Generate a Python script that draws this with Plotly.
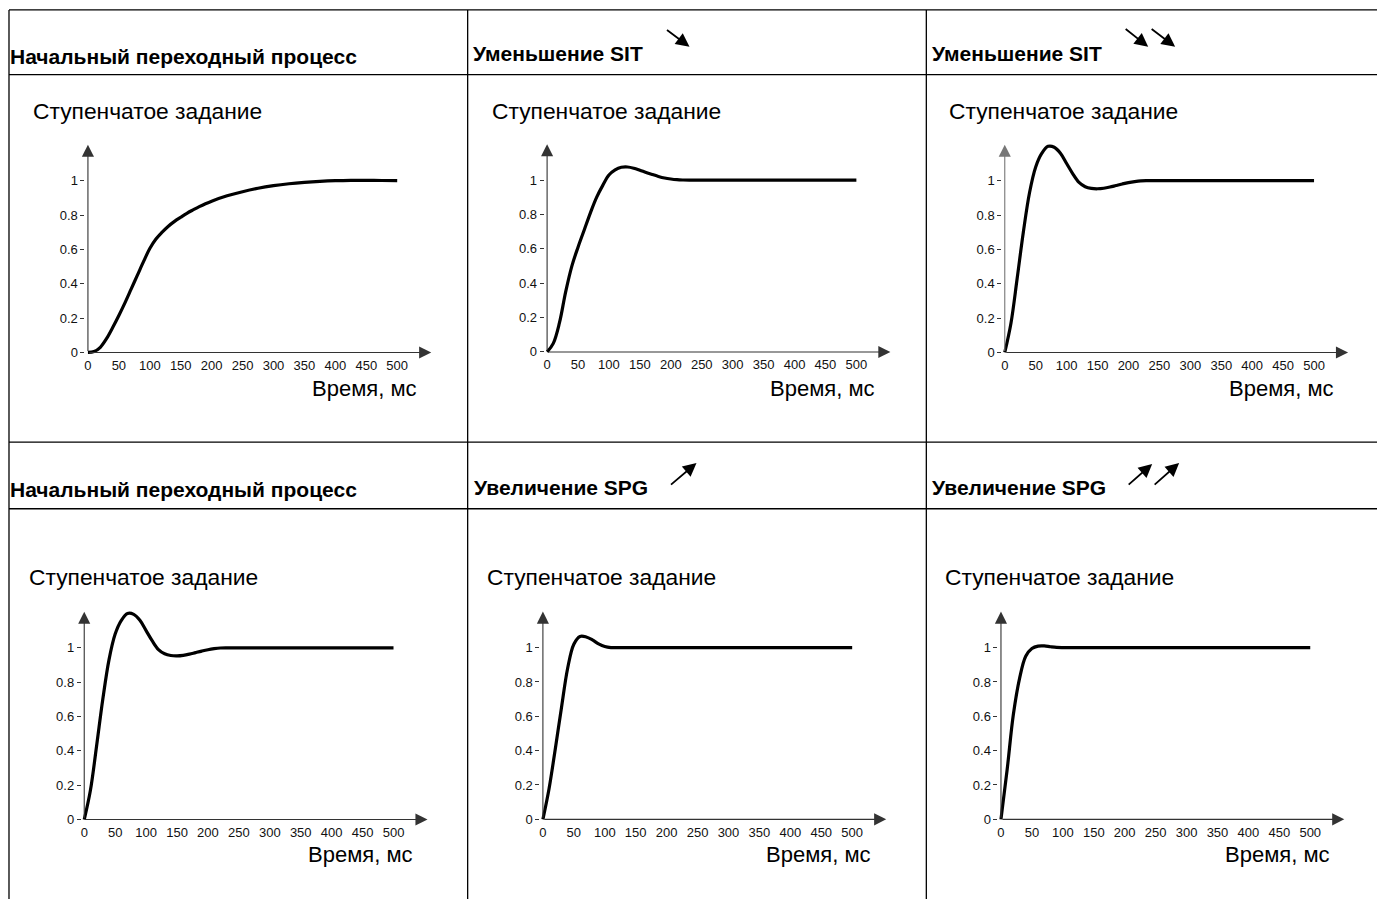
import plotly.graph_objects as go

W, H = 1377, 901

# ---------------- data ----------------
x_tick_vals = [0, 50, 100, 150, 200, 250, 300, 350, 400, 450, 500]
x_tick_text = ["0", "50", "100", "150", "200", "250", "300", "350", "400", "450", "500"]
y_tick_vals = [0, 0.2, 0.4, 0.6, 0.8, 1]
y_tick_text = ["0", "0.2", "0.4", "0.6", "0.8", "1"]

t_common = [0, 10, 20, 30, 40, 50, 60, 70, 80, 90, 100, 110, 120, 130, 140, 150, 160,
            170, 180, 190, 200, 210, 220, 230, 240, 250, 300, 350, 400, 450, 500]

# Panel 1: initial transient (slow, no overshoot)
t_initial = [0, 10, 20, 30, 40, 50, 60, 70, 80, 90, 100, 110, 120, 130, 140, 150, 160,
             170, 180, 190, 200, 225, 250, 275, 300, 325, 350, 375, 400, 425, 450, 475, 500]
y_initial = [0, 0.005, 0.03, 0.08, 0.145, 0.215, 0.29, 0.37, 0.45, 0.53, 0.605, 0.66, 0.70,
             0.735, 0.763, 0.787, 0.81, 0.83, 0.849, 0.866, 0.881, 0.912, 0.936, 0.956,
             0.971, 0.982, 0.99, 0.996, 1.0, 1.002, 1.002, 1.001, 1.0]

# Panel 2: SIT decreased
t_sit1 = t_common
y_sit1 = [0, 0.05, 0.17, 0.35, 0.50, 0.61, 0.71, 0.81, 0.90, 0.97, 1.03, 1.06, 1.075,
          1.077, 1.07, 1.058, 1.045, 1.033, 1.022, 1.013, 1.007, 1.003, 1.001, 1.0, 1.0,
          1.0, 1.0, 1.0, 1.0, 1.0, 1.0]

# Panel 3: SIT decreased further
t_sit2 = t_common
y_sit2 = [0, 0.17, 0.43, 0.70, 0.93, 1.08, 1.16, 1.20, 1.195, 1.16, 1.10, 1.04, 0.99,
          0.965, 0.955, 0.953, 0.956, 0.963, 0.972, 0.981, 0.989, 0.995, 0.999, 1.0, 1.0,
          1.0, 1.0, 1.0, 1.0, 1.0, 1.0]

# Panel 4: initial transient (second row)
t_initial2 = t_common
y_initial2 = [0, 0.17, 0.43, 0.70, 0.93, 1.08, 1.16, 1.20, 1.195, 1.16, 1.10, 1.04, 0.99,
              0.965, 0.955, 0.953, 0.956, 0.963, 0.972, 0.981, 0.989, 0.995, 0.999, 1.0,
              1.0, 1.0, 1.0, 1.0, 1.0, 1.0, 1.0]

# Panel 5: SPG increased
t_spg1 = t_common
y_spg1 = [0, 0.18, 0.41, 0.65, 0.88, 1.02, 1.065, 1.062, 1.045, 1.022, 1.006, 1.0, 1.0,
          1.0, 1.0, 1.0, 1.0, 1.0, 1.0, 1.0, 1.0, 1.0, 1.0, 1.0, 1.0, 1.0, 1.0, 1.0,
          1.0, 1.0, 1.0]

# Panel 6: SPG increased further
t_spg2 = t_common
y_spg2 = [0, 0.29, 0.61, 0.82, 0.95, 0.995, 1.009, 1.01, 1.005, 1.001, 1.0, 1.0, 1.0,
          1.0, 1.0, 1.0, 1.0, 1.0, 1.0, 1.0, 1.0, 1.0, 1.0, 1.0, 1.0, 1.0, 1.0, 1.0,
          1.0, 1.0, 1.0]

headers = ["Начальный переходный процесс", "Уменьшение SIT", "Уменьшение SIT",
           "Начальный переходный процесс", "Увеличение SPG", "Увеличение SPG"]
ylabel_text = "Ступенчатое задание"
xlabel_text = "Время, мс"

series = [(t_initial, y_initial), (t_sit1, y_sit1), (t_sit2, y_sit2),
          (t_initial2, y_initial2), (t_spg1, y_spg1), (t_spg2, y_spg2)]

# ---------------- layout geometry (pixels) ----------------
SX = 0.619      # px per ms
SY = 172.5      # px per unit
XMIN, XMAX = -4, 560
YMIN, YMAX = -0.02, 1.25
panels = [  # (px of t=0, px of y=0)
    (87.0, 354.0), (546.5, 353.5), (1004.5, 354.0),
    (83.3, 823.2), (542.3, 823.0), (1000.7, 823.0),
]
header_pos = [(7, 57), (470, 54), (930, 54), (7, 492), (471, 490), (930, 490)]
ylabel_pos = [(30, 111), (489, 111), (947, 111), (26, 580), (484, 580), (943, 580)]
xlabel_pos = [(418, 390), (877, 390), (1336, 390), (414, 858), (873, 858), (1332, 858)]
# header arrows: (tail_x, tail_y, head_x, head_y)
header_arrows = [
    (665, 29, 689, 47),
    (1124, 28, 1148, 47), (1150, 28, 1175, 47),
    (669, 488, 696, 465),
    (1127, 488, 1152, 466), (1153, 488, 1179, 465),
]


def PX(px):
    return px / W


def PY(py):
    return 1 - py / H


FONT = "Arial, Liberation Sans, Helvetica, sans-serif"

fig = go.Figure()
layout = dict(
    width=W, height=H, margin=dict(l=0, r=0, t=0, b=0),
    paper_bgcolor="white", plot_bgcolor="rgba(0,0,0,0)",
    showlegend=False, font=dict(family=FONT, color="#000"),
)
annotations = []
shapes = []

for i, ((ax0, ay0), (tx, ty)) in enumerate(zip(panels, series)):
    n = "" if i == 0 else str(i + 1)
    xa, ya = "x" + n, "y" + n
    left = ax0 + XMIN * SX
    right = ax0 + XMAX * SX
    bottom = ay0 - YMIN * SY
    top = ay0 - YMAX * SY
    layout["xaxis" + n] = dict(
        domain=[PX(left), PX(right)], range=[XMIN, XMAX], anchor=ya,
        showgrid=False, zeroline=False, showline=False, ticks="",
        tickvals=x_tick_vals, ticktext=x_tick_text,
        tickfont=dict(size=13, family=FONT, color="#111"), fixedrange=True,
    )
    layout["yaxis" + n] = dict(
        domain=[PY(bottom), PY(top)], range=[YMIN, YMAX], anchor=xa,
        showgrid=False, zeroline=False, showline=False,
        ticks="outside", ticklen=4, tickcolor="#333", tickwidth=1,
        tickvals=y_tick_vals, ticktext=y_tick_text,
        tickfont=dict(size=13, family=FONT, color="#111"), fixedrange=True,
    )
    fig.add_trace(go.Scatter(
        x=tx, y=ty, mode="lines", xaxis=xa, yaxis=ya,
        line=dict(color="black", width=3.2, shape="spline", smoothing=1.0),
        hoverinfo="skip",
    ))
    axcol = "#777" if i == 2 else "#333"
    # x axis with arrow
    annotations.append(dict(
        x=555, y=0, xref=xa, yref=ya, ax=0, ay=0, axref=xa, ayref=ya,
        text="", showarrow=True, arrowhead=2, arrowsize=2.2, arrowwidth=1.1,
        arrowcolor="#333", standoff=0, startstandoff=0,
    ))
    # y axis with arrow
    annotations.append(dict(
        x=0, y=1.21, xref=xa, yref=ya, ax=0, ay=0, axref=xa, ayref=ya,
        text="", showarrow=True, arrowhead=2, arrowsize=2.2, arrowwidth=1.1,
        arrowcolor=axcol, standoff=0, startstandoff=0,
    ))
    hx, hy = header_pos[i]
    annotations.append(dict(
        x=PX(hx), y=PY(hy), xref="paper", yref="paper", xanchor="left", yanchor="middle",
        text="<b>" + headers[i] + "</b>", showarrow=False,
        font=dict(size=21, family=FONT, color="#000"),
    ))
    lx, ly = ylabel_pos[i]
    annotations.append(dict(
        x=PX(lx), y=PY(ly), xref="paper", yref="paper", xanchor="left", yanchor="middle",
        text=ylabel_text, showarrow=False, font=dict(size=22.8, family=FONT, color="#000"),
    ))
    bx, by = xlabel_pos[i]
    annotations.append(dict(
        x=PX(bx), y=PY(by), xref="paper", yref="paper", xanchor="right", yanchor="middle",
        text=xlabel_text, showarrow=False, font=dict(size=22, family=FONT, color="#000"),
    ))

for (x1, y1, x2, y2) in header_arrows:
    annotations.append(dict(
        x=PX(x2), y=PY(y2), xref="paper", yref="paper",
        ax=x1 - x2, ay=y1 - y2, text="", showarrow=True,
        arrowhead=2, arrowsize=1.5, arrowwidth=1.8, arrowcolor="#000", standoff=0,
    ))

# table grid lines
LW = 1.3
for xv in [8, 467, 926]:
    shapes.append(dict(type="line", xref="paper", yref="paper",
                       x0=PX(xv), x1=PX(xv), y0=PY(10), y1=PY(H + 2),
                       line=dict(color="black", width=LW)))
for yv in [10, 75, 444, 511]:
    shapes.append(dict(type="line", xref="paper", yref="paper",
                       x0=PX(8), x1=1.0, y0=PY(yv), y1=PY(yv),
                       line=dict(color="black", width=LW)))

layout["annotations"] = annotations
layout["shapes"] = shapes
fig.update_layout(**layout)

fig.write_html("out.html", config={"displayModeBar": False},
               post_script="document.body.style.margin='0';document.body.style.overflow='hidden';")
